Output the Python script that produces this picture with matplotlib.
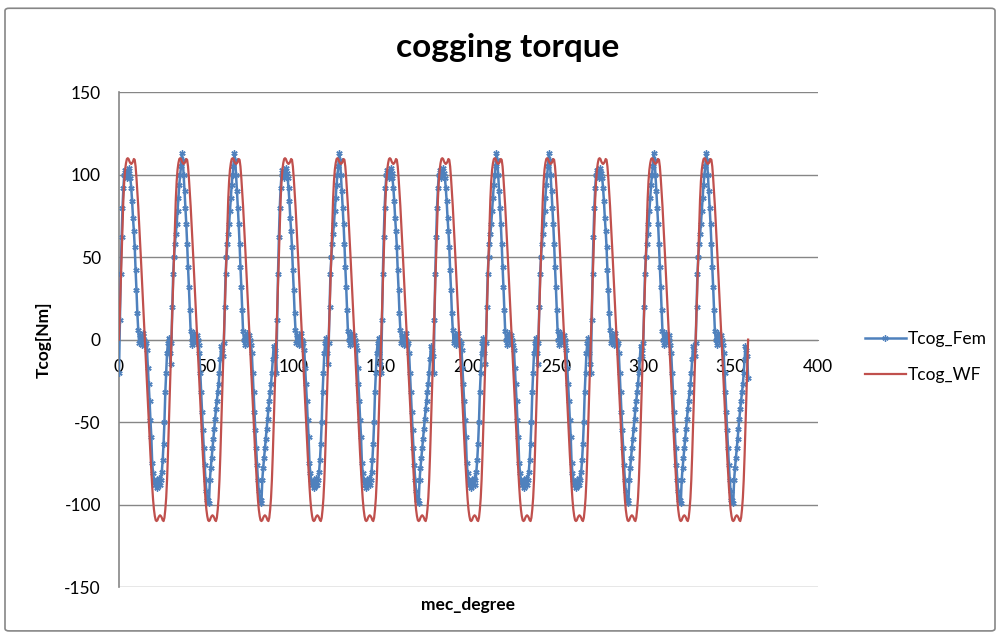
import numpy as np
import matplotlib.pyplot as plt
from matplotlib.patches import FancyBboxPatch

plt.rcParams['font.family'] = ['Lato', 'DejaVu Sans']
plt.rcParams['axes.unicode_minus'] = False

# sample spacing of both series (deg), one slot pitch = 30 deg
step = 0.5

# Tcog_WF, one slot pitch (0 .. 29.5 deg)
wf_period = [0, 17, 34, 52, 70, 85, 96, 103, 107, 109.5,
             110, 109.5, 108, 107, 106.5, 107, 108, 109.5, 109, 105,
             98, 90, 81, 71, 61, 50, 39, 28, 17, 6,
             -5, -16, -27, -38, -49, -60, -70, -80, -89, -97,
             -103, -107, -109.5, -110, -109.5, -108, -107, -106.5, -107, -108,
             -109.5, -110, -108, -103, -96, -85, -70, -52, -34, -17]
wf_end = 0

# Tcog_Fem, positive half of a pitch (0 .. 15.5 deg): flat-top and sharp-top peaks
fem_pos_flat = [-20, 12, 40, 62, 80, 92, 100, 103, 100, 98,
                102, 104, 101, 98, 92, 84, 74, 66, 56, 42,
                30, 16, 6, -2, 3, 1, -3, 2, 4, 0, -3, -2]
fem_pos_sharp = [-2, 20, 40, 50, 58, 64, 70, 78, 86, 94,
                 100, 105, 113, 109, 100, 90, 80, 70, 58, 44,
                 32, 18, 5, 0, -3, 2, 4, 0, -2, 3, 0, -3]
# negative half (16 .. 29.5 deg): flat and sharp troughs
fem_neg_flat = [-6, -17, -27, -37, -49, -59, -75, -81, -85, -88,
                -86, -90, -85, -88, -84, -88, -85, -80, -73, -63,
                -50, -32, -20, -8, -2, 1, -8, -15]
fem_neg_sharp = [-8, -20, -32, -44, -55, -66, -76, -85, -92, -97,
                 -97, -99, -85, -78, -72, -66, -60, -54, -48, -42,
                 -37, -32, -27, -20, -12, -4, -6, -10]
peak_kind = ['flat', 'sharp', 'sharp', 'flat', 'sharp', 'flat',
             'flat', 'sharp', 'sharp', 'flat', 'sharp', 'sharp']
trough_kind = ['flat', 'sharp', 'sharp', 'flat', 'flat', 'sharp',
               'flat', 'flat', 'flat', 'sharp', 'sharp', 'sharp']
fem_end = -23

# assemble the 12 pitches
fem_pos = {'flat': fem_pos_flat, 'sharp': fem_pos_sharp}
fem_neg = {'flat': fem_neg_flat, 'sharp': fem_neg_sharp}
fem = []
for pk, tk in zip(peak_kind, trough_kind):
    fem += fem_pos[pk] + fem_neg[tk]
fem.append(fem_end)
wf = wf_period * len(peak_kind) + [wf_end]

deg_fem = np.arange(len(fem)) * step
deg_wf = np.arange(len(wf)) * step

fig = plt.figure(figsize=(10, 6.36), dpi=100)

# chart area border
fig.patches.append(FancyBboxPatch((0.005, 0.008), 0.99, 0.979,
                                  boxstyle='round,pad=0,rounding_size=0.004',
                                  transform=fig.transFigure, fill=False,
                                  edgecolor='#868686', lw=1.2))

ax = fig.add_axes([0.119, 0.077, 0.699, 0.778])

ax.plot(deg_fem, fem, color='#4F81BD', lw=1.8, marker=(6, 2, 0),
        markersize=4.5, markeredgewidth=1.0, label='Tcog_Fem', zorder=3)
ax.plot(deg_wf, wf, color='#C0504D', lw=1.6, label='Tcog_WF', zorder=4)

ax.set_xlim(0, 400)
ax.set_ylim(-150, 150)
ax.set_xticks(np.arange(0, 401, 50))
ax.set_yticks(np.arange(-150, 151, 50))
ax.grid(axis='y', color='#868686', lw=1)
ax.set_axisbelow(True)

for s in ['top', 'right']:
    ax.spines[s].set_visible(False)
ax.spines['bottom'].set_position(('data', 0))
ax.spines['bottom'].set_color('#868686')
ax.spines['left'].set_color('#868686')
ax.spines['left'].set_linewidth(1.2)

ax.tick_params(axis='x', length=0, pad=14, labelsize=12.5)
ax.tick_params(axis='y', length=0, pad=13, labelsize=12.5)

ax.set_ylabel('Tcog[Nm]', fontsize=12.5, fontweight='bold')
ax.yaxis.set_label_coords(-0.096, 0.5)
fig.text(0.4685, 0.049, 'mec_degree', ha='center', va='center',
         fontsize=12.5, fontweight='bold')

fig.text(0.508, 0.926, 'cogging torque', ha='center', va='center',
         fontsize=24, fontweight='bold')

ax.legend(loc='center left', bbox_to_anchor=(0.849, 0.439),
          bbox_transform=fig.transFigure, frameon=False, fontsize=12.5,
          handlelength=2.4, handletextpad=0.1, labelspacing=1.15)

plt.savefig('out.png', dpi=100)
